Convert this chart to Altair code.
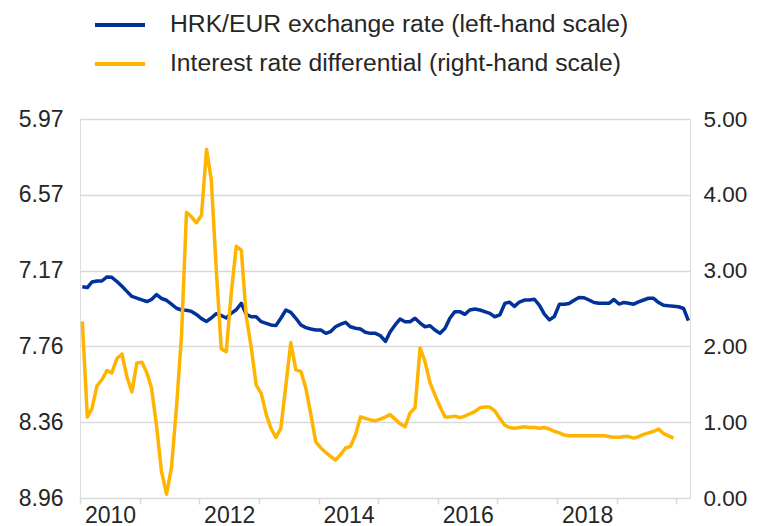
import altair as alt
import pandas as pd

BLUE_LABEL = "HRK/EUR exchange rate (left-hand scale)"
YELLOW_LABEL = "Interest rate differential (right-hand scale)"
SERIES = [BLUE_LABEL, YELLOW_LABEL]
COLORS = ["#003299", "#FFB400"]

# HRK/EUR exchange rate, monthly from Jan 2010 (left-hand scale, inverted)
blue_values = [
    7.293, 7.300, 7.256, 7.248, 7.248, 7.216, 7.219, 7.252, 7.290, 7.330,
    7.370, 7.383, 7.397, 7.410, 7.394, 7.355, 7.386, 7.400, 7.430, 7.463,
    7.477, 7.479, 7.488, 7.512, 7.545, 7.567, 7.540, 7.506, 7.520, 7.540,
    7.503, 7.475, 7.424, 7.511, 7.530, 7.530, 7.569, 7.582, 7.595, 7.600,
    7.542, 7.477, 7.495, 7.542, 7.595, 7.616, 7.627, 7.635, 7.635, 7.661,
    7.648, 7.609, 7.590, 7.574, 7.609, 7.621, 7.627, 7.653, 7.661, 7.661,
    7.680, 7.725, 7.650, 7.595, 7.548, 7.569, 7.569, 7.542, 7.580, 7.609,
    7.601, 7.635, 7.661, 7.621, 7.542, 7.490, 7.490, 7.511, 7.477, 7.469,
    7.477, 7.490, 7.503, 7.530, 7.516, 7.425, 7.415, 7.448, 7.414, 7.398,
    7.398, 7.392, 7.440, 7.510, 7.555, 7.528, 7.432, 7.432, 7.425, 7.400,
    7.378, 7.380, 7.398, 7.418, 7.424, 7.424, 7.424, 7.394, 7.430, 7.417,
    7.424, 7.431, 7.413, 7.398, 7.384, 7.385, 7.418, 7.440, 7.444, 7.447,
    7.451, 7.465, 7.560,
]

# Interest rate differential, monthly from Jan 2010 (right-hand scale)
yellow_values = [
    2.33, 1.07, 1.18, 1.48, 1.56, 1.68, 1.65, 1.84, 1.90, 1.60,
    1.40, 1.78, 1.79, 1.65, 1.45, 0.95, 0.35, 0.05, 0.40, 1.20,
    2.15, 3.77, 3.71, 3.63, 3.73, 4.60, 4.20, 3.00, 1.97, 1.93,
    2.70, 3.32, 3.27, 2.40, 1.98, 1.49, 1.38, 1.10, 0.92, 0.80,
    0.92, 1.49, 2.05, 1.69, 1.67, 1.45, 1.10, 0.74, 0.66, 0.60,
    0.55, 0.50, 0.57, 0.66, 0.68, 0.83, 1.07, 1.05, 1.03, 1.02,
    1.04, 1.07, 1.10, 1.04, 0.98, 0.94, 1.12, 1.19, 1.98, 1.80,
    1.52, 1.36, 1.20, 1.07, 1.07, 1.08, 1.06, 1.08, 1.11, 1.14,
    1.19, 1.20, 1.20, 1.15, 1.05, 0.96, 0.93, 0.92, 0.93, 0.94,
    0.93, 0.93, 0.92, 0.93, 0.91, 0.88, 0.86, 0.83, 0.82, 0.82,
    0.82, 0.82, 0.82, 0.82, 0.82, 0.82, 0.81, 0.80, 0.80, 0.81,
    0.81, 0.79, 0.81, 0.84, 0.86, 0.88, 0.91, 0.85, 0.82, 0.79,
]

left_ticks = [5.97, 6.568, 7.166, 7.764, 8.362, 8.96]
right_ticks = [0, 1, 2, 3, 4, 5]
year_ticks = list(range(2010, 2021))

FONT = "Liberation Sans"
TEXT = "#262626"
GRID = "#d9d9d9"


def month_dates(n):
    return [f"{2010 + k // 12}-{k % 12 + 1:02d}-15" for k in range(n)]


blue_df = pd.DataFrame({"date": month_dates(len(blue_values)),
                        "value": blue_values, "series": BLUE_LABEL})
yellow_df = pd.DataFrame({"date": month_dates(len(yellow_values)),
                          "value": yellow_values, "series": YELLOW_LABEL})

x_enc = alt.X(
    "date:T",
    scale=alt.Scale(domain=[alt.DateTime(year=2010, month=1, date=1),
                            alt.DateTime(year=2020, month=3, date=25)]),
    axis=alt.Axis(
        values=[alt.DateTime(year=y, month=1, date=1) for y in year_ticks],
        labelExpr="(year(datum.value) % 2 == 0 && year(datum.value) < 2020) ? timeFormat(datum.value, '%Y') : ''",
        labelOffset=30, labelPadding=0, tickSize=6, tickColor=GRID, tickWidth=1.5,
        domain=False, grid=False, title=None, labelFontSize=23,
        labelFont=FONT, labelColor=TEXT, labelOverlap=False, labelFlush=False,
    ),
)

color_enc = alt.Color(
    "series:N",
    scale=alt.Scale(domain=SERIES, range=COLORS),
    legend=alt.Legend(
        title=None, orient="none", legendX=13, legendY=-121,
        symbolType="stroke", symbolSize=2500, symbolStrokeWidth=4,
        labelFontSize=24.7, labelFont=FONT, labelColor=TEXT,
        labelOffset=23, rowPadding=-16, labelLimit=700,
    ),
)

blue = alt.Chart(blue_df).mark_line(strokeWidth=3.5, strokeJoin="round").encode(
    x=x_enc,
    y=alt.Y("value:Q",
            scale=alt.Scale(domain=[5.97, 8.96], reverse=True, nice=False, zero=False),
            axis=alt.Axis(orient="left", values=left_ticks, format=".2f", grid=False,
                          domain=False, ticks=False, labelPadding=17, title=None,
                          labelFontSize=23, labelFont=FONT, labelColor=TEXT)),
    color=color_enc,
)

yellow = alt.Chart(yellow_df).mark_line(strokeWidth=3.5, strokeJoin="round").encode(
    x=x_enc,
    y=alt.Y("value:Q",
            scale=alt.Scale(domain=[0, 5], nice=False),
            axis=alt.Axis(orient="right", values=right_ticks, format=".2f", grid=True,
                          gridColor=GRID, gridWidth=1.5, domain=False, ticks=False,
                          labelPadding=13, title=None, labelFontSize=22.5,
                          labelFont=FONT, labelColor=TEXT)),
    color=color_enc,
)

chart = alt.layer(blue, yellow).resolve_scale(y="independent").properties(
    width=610, height=379,
    autosize=alt.AutoSizeParams(type="none"),
    padding={"left": 72, "top": 111, "right": 59, "bottom": 28},
).configure_view(stroke=GRID, strokeWidth=1.5).configure(background="white")

chart.save("out.html", embed_options={"renderer": "svg", "actions": False})
